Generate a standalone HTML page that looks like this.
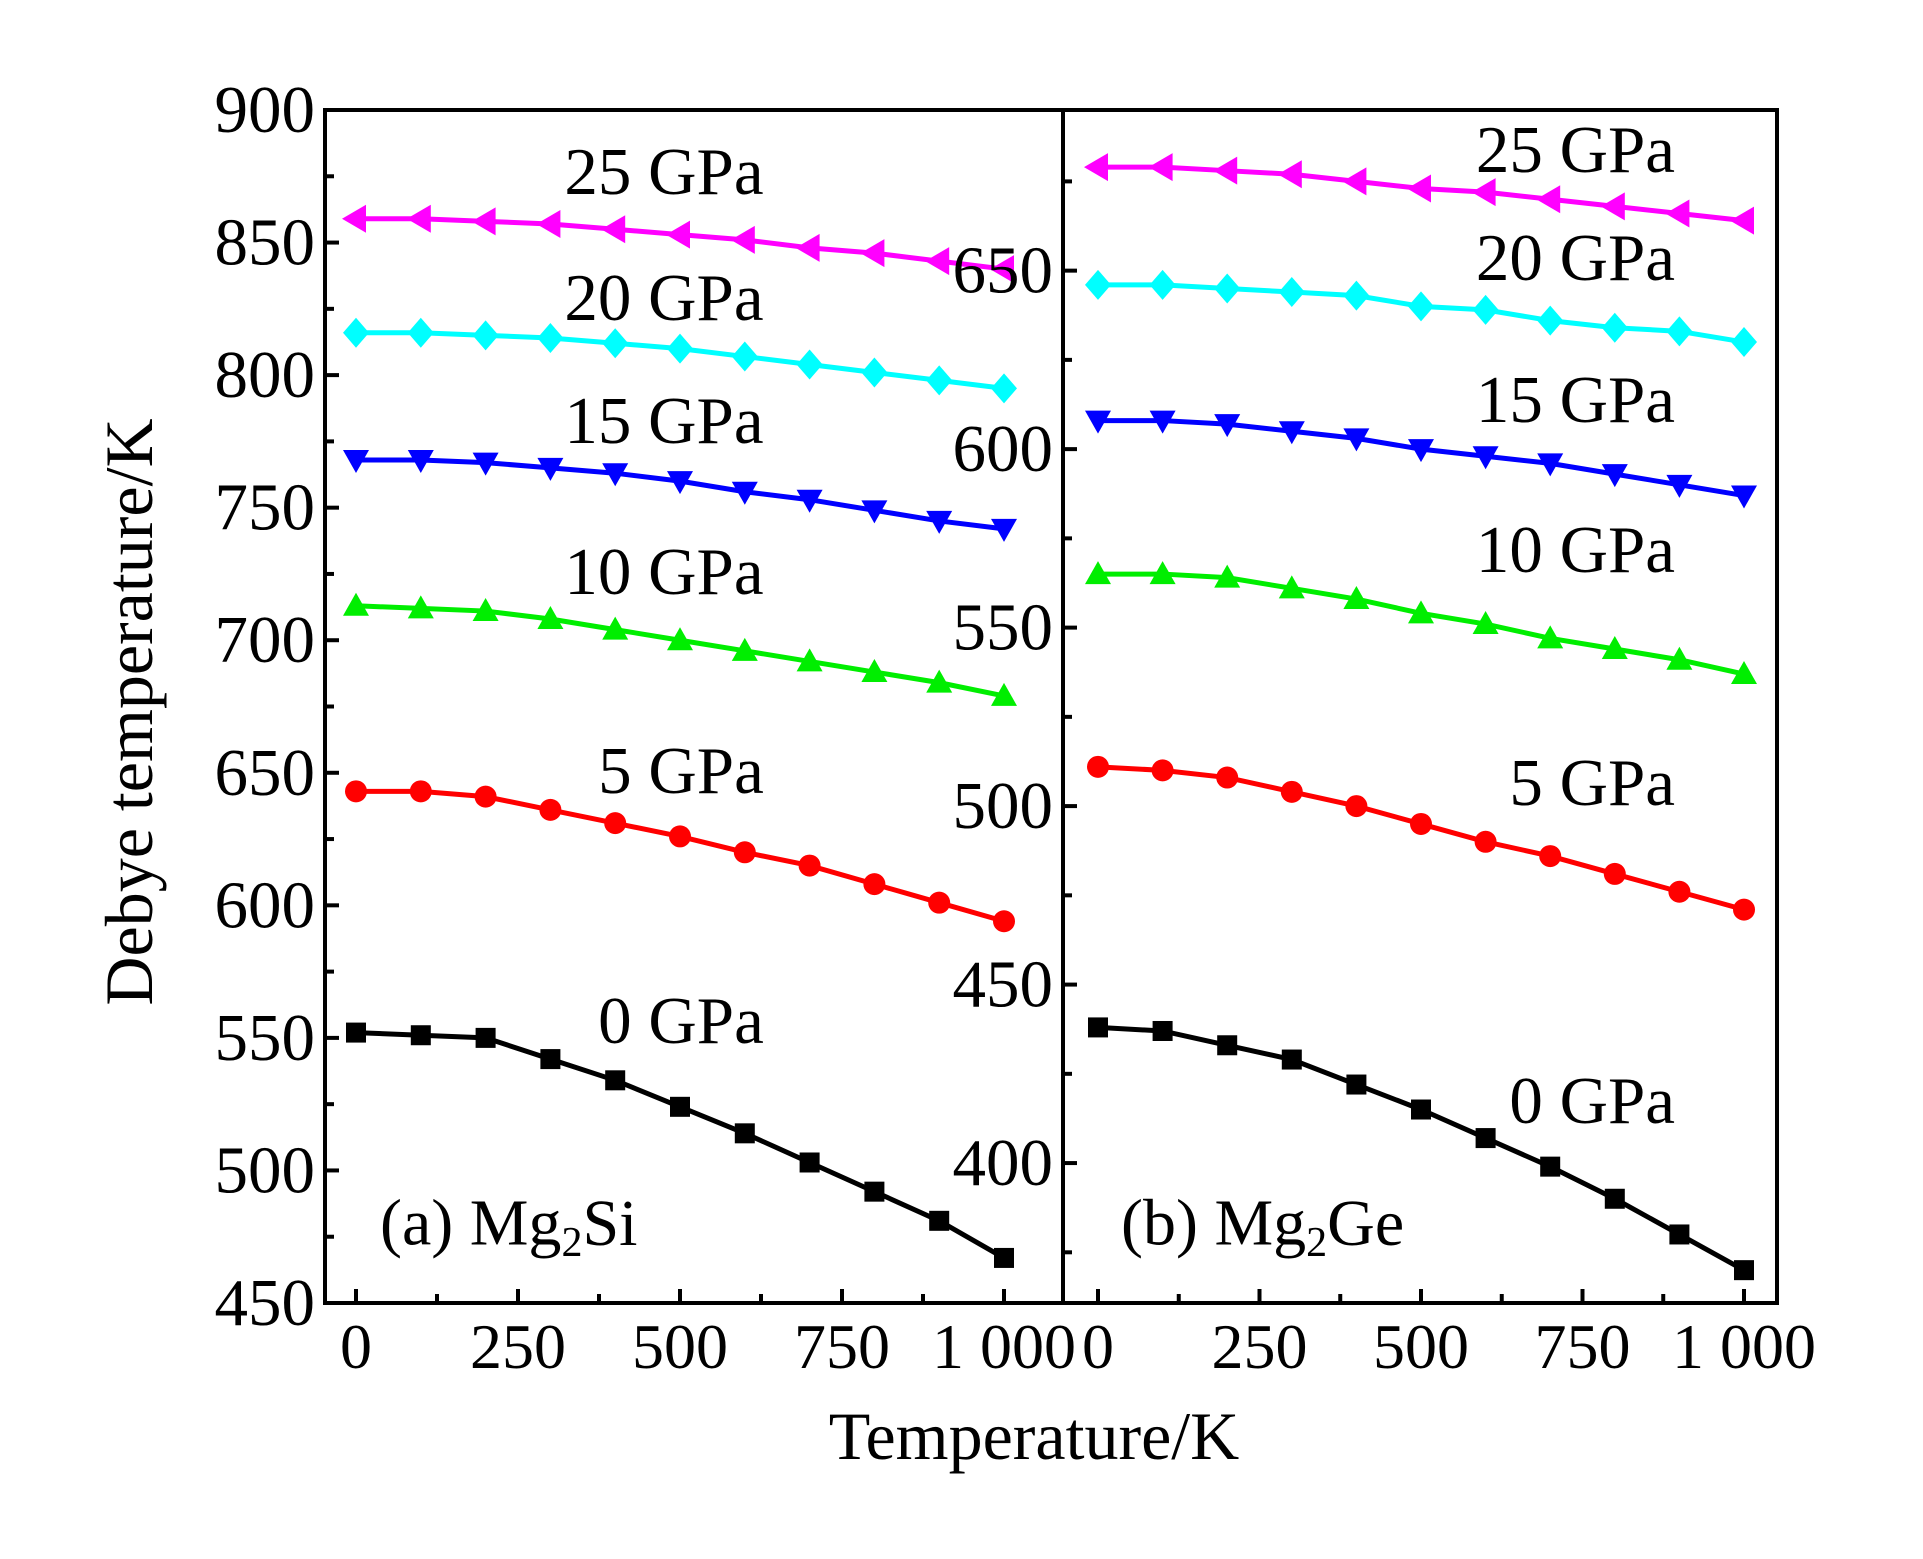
<!DOCTYPE html>
<html><head><meta charset="utf-8"><style>
html,body{margin:0;padding:0;background:#fff;}
svg{display:block;font-family:"Liberation Serif",serif;}
</style></head><body>
<svg id="chart" width="1923" height="1559" viewBox="0 0 1923 1559" xmlns="http://www.w3.org/2000/svg">
<rect width="1923" height="1559" fill="#fff"/>
<g id="plot"></g>
<text x="0" y="0" font-size="68" text-anchor="middle" dominant-baseline="central" transform="translate(129,712) rotate(-90)">Debye temperature/K</text>
<text x="1034" y="1436" font-size="68" text-anchor="middle" dominant-baseline="central">Temperature/K</text>
<text x="380" y="1223" font-size="66" dominant-baseline="central">(a) Mg<tspan font-size="42" dy="20">2</tspan><tspan dy="-20">Si</tspan></text>
<text x="1121" y="1223" font-size="66" dominant-baseline="central">(b) Mg<tspan font-size="42" dy="20">2</tspan><tspan dy="-20">Ge</tspan></text>
</svg>
<script>
const temps=[0,100,200,300,400,500,600,700,800,900,1000];
const pressures=['0 GPa','5 GPa','10 GPa','15 GPa','20 GPa','25 GPa'];
const colors=['#000000','#ff0000','#00ee00','#0000ff','#00ffff','#ff00ff'];
const markers=['square','circle','up','down','diamond','left'];
const siP0=[552,551,550,542,534,524,514,503,492,481,467];
const siP5=[643,643,641,636,631,626,620,615,608,601,594];
const siP10=[713,712,711,708,704,700,696,692,688,684,679];
const siP15=[768,768,767,765,763,760,756,753,749,745,742];
const siP20=[816,816,815,814,812,810,807,804,801,798,795];
const siP25=[859,859,858,857,855,853,851,848,846,843,840];
const geP0=[438,437,433,429,422,415,407,399,390,380,370];
const geP5=[511,510,508,504,500,495,490,486,481,476,471];
const geP10=[565,565,564,561,558,554,551,547,544,541,537];
const geP15=[608,608,607,605,603,600,598,596,593,590,587];
const geP20=[646,646,645,644,643,640,639,636,634,633,630];
const geP25=[679,679,678,677,675,673,672,670,668,666,664];
const xTicks=[0,250,500,750,1000];
const xTickLabels=['0','250','500','750','1 000'];
const siYTicks=[450,500,550,600,650,700,750,800,850,900];
const geYTicks=[400,450,500,550,600,650];

const NS='http://www.w3.org/2000/svg';
const root=document.getElementById('plot');
function mk(tag,attrs,parent){const e=document.createElementNS(NS,tag);for(const k in attrs)e.setAttribute(k,attrs[k]);(parent||root).appendChild(e);return e;}

const panels=[
 {id:'a',x0:325,x1:1063,px0:356,px1:1004,ymin:450,ymax:900,yt:siYTicks,series:[siP0,siP5,siP10,siP15,siP20,siP25],
  labels:[[681,1021],[681,771],[664,572],[664,421],[664,298],[664,172]],anchor:'middle'},
 {id:'b',x0:1063,x1:1777,px0:1098,px1:1744,ymin:360.8,ymax:695,yt:geYTicks,series:[geP0,geP5,geP10,geP15,geP20,geP25],
  labels:[[1675,1101],[1675,783],[1675,550],[1675,400],[1675,258],[1675,150]],anchor:'end'}
];
const plotTop=110,plotBottom=1303;

panels.forEach(p=>{
 const sx=v=>p.px0+(v-0)/1000*(p.px1-p.px0);
 const sy=v=>plotBottom-(v-p.ymin)/(p.ymax-p.ymin)*(plotBottom-plotTop);
 const g=mk('g',{});
 
 
 for(let v=0;v<=1000;v+=125){
  const major=v%250===0;
  const t=mk('line',{x1:sx(v),x2:sx(v),y1:plotBottom,y2:plotBottom-(major?14:9),stroke:'#000','stroke-width':4},g);
  
  
 }
 xTicks.forEach((v,i)=>{
  const t=mk('text',{x:sx(v),y:1368,'font-size':64,'text-anchor':'middle'},g);
  t.textContent=xTickLabels[i];
  
  
 });
 const lo=Math.ceil(p.ymin/25)*25;
 for(let v=lo;v<=p.ymax;v+=25){
  const major=v%50===0;
  const t=mk('line',{x1:p.x0,x2:p.x0+(major?14:9),y1:sy(v),y2:sy(v),stroke:'#000','stroke-width':4},g);
  
  
 }
 p.yt.forEach(v=>{
  const t=mk('text',{x:p.x0-10,y:sy(v),'font-size':67,'text-anchor':'end','dominant-baseline':'central'},g);
  t.textContent=String(v);
  
  
 });
 p.series.forEach((arr,si)=>{
  const c=colors[si];
  const sg=mk('g',{},g);
  
  
  const pts=arr.map((v,i)=>sx(temps[i])+','+sy(v)).join(' ');
  mk('polyline',{points:pts,fill:'none',stroke:c,'stroke-width':5},sg);
  arr.forEach((v,i)=>{
   const x=sx(temps[i]),y=sy(v);let m;
   const mt=markers[si];
   if(mt==='square')m=mk('rect',{x:x-10,y:y-10,width:20,height:20,fill:c},sg);
   else if(mt==='circle')m=mk('circle',{cx:x,cy:y,r:11,fill:c},sg);
   else if(mt==='up')m=mk('polygon',{points:`${x},${y-13} ${x-13},${y+10} ${x+13},${y+10}`,fill:c},sg);
   else if(mt==='down')m=mk('polygon',{points:`${x},${y+13} ${x-13},${y-10} ${x+13},${y-10}`,fill:c},sg);
   else if(mt==='diamond')m=mk('polygon',{points:`${x},${y-15} ${x+13},${y} ${x},${y+15} ${x-13},${y}`,fill:c},sg);
   else m=mk('polygon',{points:`${x-14},${y} ${x+10},${y-14} ${x+10},${y+14}`,fill:c},sg);
   
   
  });
  const l=p.labels[si];
  const t=mk('text',{x:l[0],y:l[1],'font-size':67,'text-anchor':p.anchor,'dominant-baseline':'central'},g);
  t.textContent=pressures[si];
  
  
 });
 const fr=mk('rect',{x:p.x0,y:plotTop,width:p.x1-p.x0,height:plotBottom-plotTop,fill:'none',stroke:'#000','stroke-width':4},g);
 
 
});
</script>
</body></html>
